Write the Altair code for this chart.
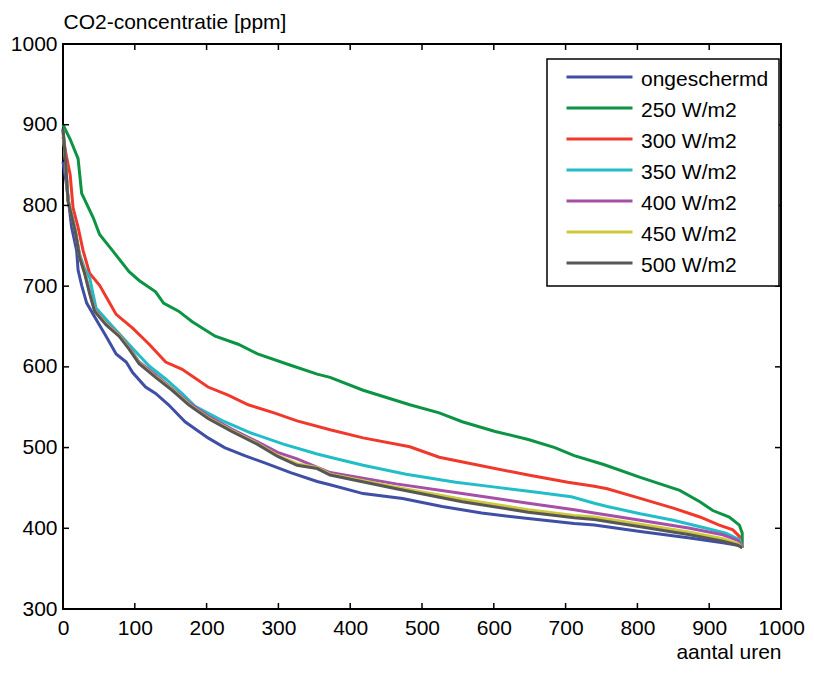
import altair as alt
import pandas as pd

# ---------------- data ----------------
series_names = ["ongeschermd", "250 W/m2", "300 W/m2", "350 W/m2",
                "400 W/m2", "450 W/m2", "500 W/m2"]
series_colors = ["#3f4fa5", "#0c9444", "#f0392b", "#22bec8",
                 "#a64fa8", "#cdc93a", "#575757"]

h_ongeschermd = [0, 5, 12, 19, 21, 26, 33, 46, 60, 74, 88, 97, 115, 129, 147, 170,
                 202, 225, 253, 281, 317, 354, 372, 418, 473, 528, 583, 648, 712,
                 740, 804, 873, 919, 940, 946]
v_ongeschermd = [854, 825, 773, 744, 720, 701, 679, 659, 638, 616, 606, 593, 575, 567,
                 553, 532, 512, 500, 490, 481, 469, 458, 454, 443, 437, 427, 419, 412,
                 406, 404, 396, 388, 382, 379, 376]

h_250 = [0, 10, 21, 26, 42, 51, 69, 92, 106, 129, 140, 161, 180, 212, 244, 271, 317,
         354, 372, 418, 483, 524, 556, 602, 648, 685, 712, 753, 804, 859, 887, 905,
         928, 942, 946, 946]
v_250 = [900, 882, 858, 815, 785, 764, 744, 718, 707, 693, 679, 669, 656, 638, 628,
         616, 602, 591, 587, 571, 553, 543, 532, 520, 510, 500, 490, 479, 463, 447,
         433, 422, 414, 404, 394, 376]

h_300 = [0, 5, 10, 14, 21, 28, 37, 51, 65, 74, 97, 120, 143, 166, 202, 230, 258, 294,
         326, 372, 418, 483, 524, 574, 648, 703, 740, 758, 804, 850, 887, 914, 933,
         942, 946]
v_300 = [885, 860, 838, 797, 773, 744, 716, 701, 679, 665, 648, 628, 606, 597, 575,
         565, 553, 543, 533, 522, 512, 501, 488, 479, 466, 457, 452, 449, 437, 425,
         414, 404, 398, 390, 376]

h_350 = [0, 3, 7, 17, 23, 30, 37, 46, 69, 102, 120, 143, 166, 184, 225, 262, 308, 354,
         372, 418, 478, 547, 602, 657, 708, 740, 758, 804, 850, 896, 923, 942, 946]
v_350 = [895, 862, 808, 770, 740, 722, 711, 673, 650, 618, 601, 585, 567, 551, 532,
         518, 504, 492, 488, 478, 467, 457, 451, 445, 439, 431, 427, 418, 410, 400,
         394, 386, 376]

h_400 = [0, 3, 7, 17, 23, 30, 37, 44, 60, 78, 92, 106, 129, 152, 175, 202, 235, 271,
         299, 326, 372, 464, 556, 648, 712, 740, 804, 873, 919, 940, 946]
v_400 = [893, 860, 806, 769, 738, 718, 694, 671, 654, 640, 624, 606, 590, 573, 556,
         539, 523, 507, 494, 486, 469, 455, 443, 431, 423, 419, 410, 400, 392, 385, 376]

h_450 = [0, 3, 7, 17, 23, 30, 37, 44, 60, 78, 92, 106, 129, 152, 175, 202, 235, 271,
         299, 326, 354, 372, 464, 556, 648, 712, 740, 804, 873, 919, 940, 946]
v_450 = [894, 861, 806, 769, 737, 717, 692, 670, 653, 639, 623, 605, 588, 572, 554,
         537, 521, 505, 490, 480, 475, 467, 451, 436, 423, 416, 414, 405, 395, 387,
         381, 376]

h_500 = [0, 3, 7, 17, 23, 30, 37, 44, 60, 78, 92, 106, 129, 152, 175, 202, 235, 271,
         299, 326, 354, 372, 464, 556, 648, 712, 740, 804, 873, 919, 940, 946]
v_500 = [895, 862, 805, 768, 736, 716, 691, 669, 652, 638, 622, 604, 587, 571, 553,
         536, 520, 504, 489, 478, 474, 466, 449, 433, 420, 413, 411, 402, 392, 384,
         379, 376]

x_ticks = [0, 100, 200, 300, 400, 500, 600, 700, 800, 900, 1000]
y_ticks = [300, 400, 500, 600, 700, 800, 900, 1000]

x_title = "aantal uren"
y_title = "CO2-concentratie [ppm]"

# ---------------- build table ----------------
all_h = [h_ongeschermd, h_250, h_300, h_350, h_400, h_450, h_500]
all_v = [v_ongeschermd, v_250, v_300, v_350, v_400, v_450, v_500]
rows = []
for name, hs, vs in zip(series_names, all_h, all_v):
    for i, (h, v) in enumerate(zip(hs, vs)):
        rows.append({"serie": name, "uren": h, "ppm": v, "i": i})
df = pd.DataFrame(rows)

W, H = 718, 565
FONT = "Liberation Sans"

x_scale = alt.Scale(domain=[0, 1000], nice=False, zero=False)
y_scale = alt.Scale(domain=[300, 1000], nice=False, zero=False)

x_axis = alt.Axis(values=x_ticks, title=x_title, format="d",
                  titleX=W, titleY=49, titleAlign="right",
                  titleBaseline="alphabetic", labelBaseline="alphabetic",
                  labelPadding=25)
y_axis = alt.Axis(values=y_ticks, title=y_title, format="d",
                  titleX=0, titleY=-16, titleAngle=0, titleAlign="left",
                  titleBaseline="alphabetic", labelPadding=6)

lines = alt.Chart(df).mark_line(strokeWidth=3).encode(
    x=alt.X("uren:Q", scale=x_scale, axis=x_axis),
    y=alt.Y("ppm:Q", scale=y_scale, axis=y_axis),
    color=alt.Color("serie:N",
                    scale=alt.Scale(domain=series_names, range=series_colors),
                    legend=alt.Legend(title=None, orient="none", legendX=484, legendY=15,
                                      padding=10, strokeColor="black", fillColor="white",
                                      symbolType="M-6.6,-0.5L6.6,-0.5", symbolSize=100,
                                      symbolStrokeWidth=3, symbolOffset=32,
                                      labelOffset=31, labelFont=FONT, labelFontSize=21,
                                      labelColor="black", rowPadding=9, labelLimit=300)),
    order=alt.Order("i:Q"),
)

xt = pd.DataFrame({"uren": x_ticks})
yt = pd.DataFrame({"ppm": y_ticks})

tick_style = dict(color="black", strokeWidth=1.5)
bottom_ticks = alt.Chart(xt).mark_rule(**tick_style).encode(
    x=alt.X("uren:Q", scale=x_scale, axis=x_axis), y=alt.value(H), y2=alt.value(H - 6))
top_ticks = alt.Chart(xt).mark_rule(**tick_style).encode(
    x=alt.X("uren:Q", scale=x_scale, axis=x_axis), y=alt.value(0), y2=alt.value(6))
left_ticks = alt.Chart(yt).mark_rule(**tick_style).encode(
    y=alt.Y("ppm:Q", scale=y_scale, axis=y_axis), x=alt.value(0), x2=alt.value(6))
right_ticks = alt.Chart(yt).mark_rule(**tick_style).encode(
    y=alt.Y("ppm:Q", scale=y_scale, axis=y_axis), x=alt.value(W), x2=alt.value(W - 6))

chart = alt.layer(lines, bottom_ticks, top_ticks, left_ticks, right_ticks).properties(
    width=W, height=H,
    autosize=alt.AutoSizeParams(type="none"),
    padding={"left": 55, "top": 36, "right": 24, "bottom": 54},
    background="white",
).configure_view(
    stroke="black", strokeWidth=2
).configure_axis(
    domain=False, ticks=False, tickSize=0, grid=False,
    labelFont=FONT, labelFontSize=21, labelColor="black",
    labelFlush=False, labelOverlap=False, labelBound=False,
    titleFont=FONT, titleFontSize=21, titleFontWeight="normal", titleColor="black",
).configure_legend(
    strokeWidth=1.5
)

chart.save("out.html", embed_options={"renderer": "svg", "actions": False})
